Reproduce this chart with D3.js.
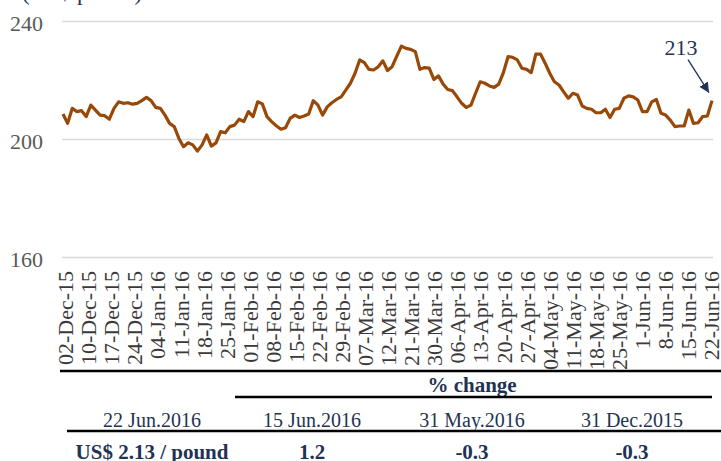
<!DOCTYPE html>
<html>
<head>
<meta charset="utf-8">
<script src="https://cdn.jsdelivr.net/npm/d3@7/dist/d3.min.js"></script>
<style>
  body { margin: 0; background: #fff; }
  svg { display: block; font-family: "Liberation Serif", "Times New Roman", serif; }
</style>
</head>
<body>
<svg id="chart"></svg>
<script>
// axis labels (one every five trading days)
const dateLabels = ["02-Dec-15", "10-Dec-15", "17-Dec-15", "24-Dec-15", "04-Jan-16", "11-Jan-16",
	"18-Jan-16", "25-Jan-16", "01-Feb-16", "08-Feb-16", "15-Feb-16", "22-Feb-16", "29-Feb-16",
	"07-Mar-16", "12-Mar-16", "21-Mar-16", "30-Mar-16", "06-Apr-16", "13-Apr-16", "20-Apr-16",
	"27-Apr-16", "04-May-16", "11-May-16", "18-May-16", "25-May-16", "1-Jun-16", "8-Jun-16",
	"15-Jun-16", "22-Jun-16"];

// daily price, US cents per pound
const prices = [
	208.5, 205.3, 210.4, 209.3, 209.6, 207.6, 211.5, 209.8, 208.1, 207.9,
	206.7, 210.4, 212.6, 212.1, 212.3, 211.8, 212.1, 213.0, 214.1, 213.0,
	210.7, 210.4, 208.1, 205.3, 204.2, 200.2, 197.4, 198.7, 198.0, 195.9,
	198.0, 201.4, 197.6, 198.7, 202.5, 202.1, 204.2, 204.7,
	206.7, 205.9, 209.3, 207.6, 212.6, 211.9, 207.6, 205.9, 204.5, 203.3,
	203.8, 207.0, 208.1, 207.3, 207.8, 208.5, 213.0, 211.5, 208.1, 210.9,
	212.3, 213.4, 214.3, 216.6, 218.9, 222.3, 226.8, 225.9, 223.6, 223.4,
	224.5, 226.5, 223.2, 224.5, 228.1, 231.5, 230.7,
	230.4, 229.6, 223.6, 224.2, 224.0, 220.2, 221.4, 218.6, 216.8, 216.4,
	214.3, 212.1, 210.7, 211.5, 215.5, 219.4, 218.9, 218.0, 217.5, 218.6,
	222.5, 227.9, 227.7, 226.8, 224.0, 223.6, 222.5, 228.8, 228.8, 225.7,
	222.3,
	219.4, 218.3, 216.0, 213.8, 215.5, 214.9, 211.2, 210.4, 210.1, 208.9,
	208.9, 210.1, 207.3, 210.1, 210.4, 213.8, 214.6, 214.3, 213.2, 209.3,
	209.3, 212.6, 213.4, 208.7, 208.1, 206.4, 204.2, 204.4, 204.4, 209.8,
	205.3, 205.5, 207.6, 207.8, 213.0
];
const yTicks = [160, 200, 240];
const lastValueLabel = "213";

// table under the chart
const unitTitle = "(US$/pound)";
const changeTitle = "% change";
const tableDates = ["22 Jun.2016", "15 Jun.2016", "31 May.2016", "31 Dec.2015"];
const tableValues = ["US$ 2.13 / pound", "1.2", "-0.3", "-0.3"];

const width = 721;
const height = 461;
const navy = "#1f3354";

const svg = d3.select("#chart")
	.attr("width", width)
	.attr("height", height)
	.attr("viewBox", [0, 0, width, height]);

// scales
const x = d3.scaleLinear([0, prices.length - 1], [63, 712]);
const xLabel = d3.scalePoint(dateLabels, [65, 711]);
const y = d3.scaleLinear([160, 240], [257, 21]);

// title (cut off at the top)
svg.append("text")
	.attr("x", 22)
	.attr("y", 0)
	.attr("fill", navy)
	.attr("font-size", "23px")
	.text(unitTitle);

// y axis with gridlines
svg.append("g")
	.attr("transform", "translate(62,0)")
	.call(d3.axisLeft(y).tickValues(yTicks).tickSize(0).tickPadding(19))
	.call(g => g.select(".domain").remove())
	.call(g => g.selectAll(".tick line").clone()
		.attr("x2", 651)
		.attr("stroke", "#d9d9d9")
		.attr("stroke-width", 1.4))
	.call(g => g.selectAll(".tick text")
		.attr("font-family", "Liberation Serif, serif")
		.attr("font-size", "22px")
		.attr("dy", "0.42em")
		.attr("fill", "#595959"));

// x axis, rotated date labels
svg.append("g")
	.attr("transform", "translate(0,262)")
	.call(d3.axisBottom(xLabel).tickSize(0))
	.call(g => g.select(".domain").remove())
	.call(g => g.selectAll(".tick text")
		.attr("font-family", "Liberation Serif, serif")
		.attr("font-size", "22px")
		.attr("fill", "#3a3a3a")
		.attr("transform", "rotate(-90)")
		.attr("x", -9)
		.attr("y", 0)
		.attr("dy", "0.35em")
		.attr("text-anchor", "end"));

// price line
const line = d3.line()
	.x((d, i) => x(i))
	.y(d => y(d));

svg.append("path")
	.datum(prices)
	.attr("fill", "none")
	.attr("stroke", "#984807")
	.attr("stroke-width", 3.2)
	.attr("stroke-linejoin", "round")
	.attr("d", line);

// last value annotation with arrow
svg.append("defs").append("marker")
	.attr("id", "head")
	.attr("viewBox", "0 0 10 10")
	.attr("refX", 10)
	.attr("refY", 5)
	.attr("markerWidth", 10)
	.attr("markerHeight", 10)
	.attr("markerUnits", "userSpaceOnUse")
	.attr("orient", "auto")
	.append("path")
	.attr("d", "M0,0L10,5L0,10Z")
	.attr("fill", navy);

const lastX = x(prices.length - 1);
const lastY = y(prices[prices.length - 1]);

svg.append("line")
	.attr("x1", lastX - 24)
	.attr("y1", lastY - 41)
	.attr("x2", lastX - 3)
	.attr("y2", lastY - 8)
	.attr("stroke", navy)
	.attr("stroke-width", 1.3)
	.attr("marker-end", "url(#head)");

svg.append("text")
	.attr("x", lastX - 31)
	.attr("y", lastY - 46)
	.attr("fill", navy)
	.attr("font-size", "22px")
	.attr("text-anchor", "middle")
	.text(lastValueLabel);

// table
const col = d3.scalePoint(tableDates, [152, 632]);

svg.append("line")
	.attr("x1", 60).attr("x2", 721)
	.attr("y1", 371).attr("y2", 371)
	.attr("stroke", "#000").attr("stroke-width", 2.4);

svg.append("text")
	.attr("x", col(tableDates[2]))
	.attr("y", 392)
	.attr("text-anchor", "middle")
	.attr("font-weight", "bold")
	.attr("font-size", "21px")
	.attr("fill", navy)
	.text(changeTitle);

svg.append("line")
	.attr("x1", 235).attr("x2", 712)
	.attr("y1", 397).attr("y2", 397)
	.attr("stroke", "#000").attr("stroke-width", 2.4);

svg.append("g")
	.selectAll("text")
	.data(tableDates)
	.join("text")
	.attr("x", d => col(d))
	.attr("y", 427)
	.attr("text-anchor", "middle")
	.attr("font-size", "20px")
	.attr("fill", navy)
	.text(d => d);

svg.append("line")
	.attr("x1", 67).attr("x2", 721)
	.attr("y1", 431).attr("y2", 431)
	.attr("stroke", "#000").attr("stroke-width", 2.4);

svg.append("g")
	.selectAll("text")
	.data(tableValues)
	.join("text")
	.attr("x", (d, i) => col(tableDates[i]))
	.attr("y", 459)
	.attr("text-anchor", "middle")
	.attr("font-weight", "bold")
	.attr("font-size", "21px")
	.attr("fill", navy)
	.text(d => d);
</script>
</body>
</html>
